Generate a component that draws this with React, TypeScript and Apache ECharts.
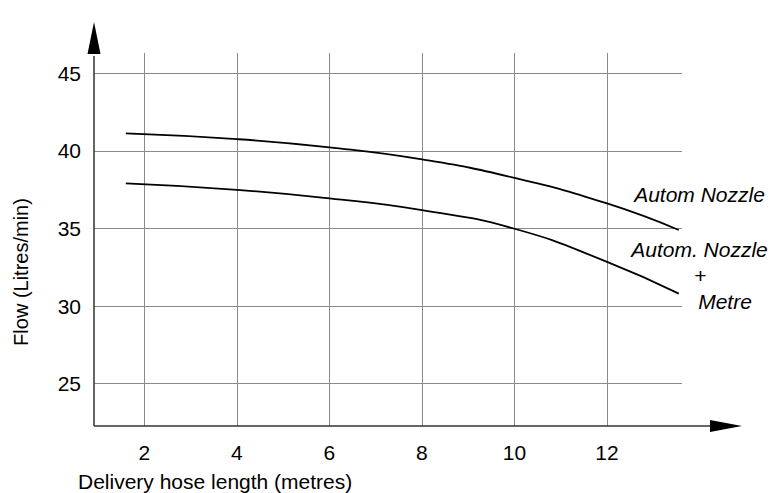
import React, { useEffect, useRef } from "react";
import * as echarts from "echarts";

// ---- data ----
const HOSE_LENGTH = [1.6, 4, 6, 8, 10, 12, 13.55];
const FLOW_AUTOM_NOZZLE = [41.13, 40.76, 40.23, 39.45, 38.26, 36.61, 34.9];
const FLOW_AUTOM_NOZZLE_METRE = [37.9, 37.49, 36.94, 36.18, 34.98, 32.85, 30.8];
const X_TICKS = [2, 4, 6, 8, 10, 12];
const Y_TICKS = [25, 30, 35, 40, 45];

const W = 774;
const H = 493;
const GRID = { left: 94, top: 53, right: 92, bottom: 67 };
const FONT = "'Liberation Sans', Arial, Helvetica, sans-serif";
const AXIS_COLOR = "#333";
const GRID_COLOR = "#8a8a8a";

export default function App() {
  const ref = useRef<HTMLDivElement>(null);

  useEffect(() => {
    if (!ref.current) return;
    const chart = echarts.init(ref.current, undefined, { renderer: "svg" });

    const x0 = GRID.left;
    const y0 = H - GRID.bottom;
    const xArrowBase = 710;
    const xArrowTip = 742;
    const yArrowBase = 54;
    const yArrowTip = 22;

    const textStyle = (text: string, italic: boolean, size = 21) => ({
      text,
      fontSize: size,
      fontStyle: italic ? "italic" : "normal",
      fontFamily: FONT,
      fill: "#000",
      align: "center",
      verticalAlign: "middle",
    });

    const option: any = {
      animation: false,
      backgroundColor: "#fff",
      grid: { ...GRID, containLabel: false },
      xAxis: {
        type: "value",
        min: 0.912,
        max: 13.62,
        axisLine: { show: false },
        axisTick: { show: false, customValues: X_TICKS },
        axisLabel: {
          customValues: X_TICKS,
          margin: 16,
          fontSize: 21,
          color: "#000",
          fontFamily: FONT,
        },
        splitLine: { show: true, lineStyle: { color: GRID_COLOR, width: 1 } },
      },
      yAxis: {
        type: "value",
        min: 22.265,
        max: 46.31,
        axisLine: { show: false },
        axisTick: { show: false, customValues: Y_TICKS },
        axisLabel: {
          customValues: Y_TICKS,
          margin: 13,
          fontSize: 21,
          color: "#000",
          fontFamily: FONT,
        },
        splitLine: { show: true, lineStyle: { color: GRID_COLOR, width: 1 } },
      },
      series: [
        {
          name: "Autom Nozzle",
          type: "line",
          smooth: true,
          showSymbol: false,
          data: HOSE_LENGTH.map((x, i) => [x, FLOW_AUTOM_NOZZLE[i]]),
          lineStyle: { color: "#000", width: 1.8 },
        },
        {
          name: "Autom. Nozzle + Metre",
          type: "line",
          smooth: true,
          showSymbol: false,
          data: HOSE_LENGTH.map((x, i) => [x, FLOW_AUTOM_NOZZLE_METRE[i]]),
          lineStyle: { color: "#000", width: 1.8 },
        },
      ],
      graphic: [
        // axes with arrows
        {
          type: "line",
          shape: { x1: x0, y1: y0, x2: x0, y2: yArrowBase + 2 },
          style: { stroke: AXIS_COLOR, lineWidth: 1.5 },
          z: 10,
        },
        {
          type: "polygon",
          shape: {
            points: [
              [x0 - 6.5, yArrowBase],
              [x0 + 6.5, yArrowBase],
              [x0, yArrowTip],
            ],
          },
          style: { fill: "#000" },
          z: 10,
        },
        {
          type: "line",
          shape: { x1: x0, y1: y0, x2: xArrowBase + 2, y2: y0 },
          style: { stroke: AXIS_COLOR, lineWidth: 1.5 },
          z: 10,
        },
        {
          type: "polygon",
          shape: {
            points: [
              [xArrowBase, y0 - 6],
              [xArrowBase, y0 + 6],
              [xArrowTip, y0],
            ],
          },
          style: { fill: "#000" },
          z: 10,
        },
        // axis names
        {
          type: "text",
          x: 78,
          y: 481,
          style: { ...textStyle("Delivery hose length (metres)", false), align: "left" },
        },
        {
          type: "text",
          x: 21,
          y: 272,
          rotation: Math.PI / 2,
          style: textStyle("Flow (Litres/min)", false, 20),
        },
        // curve labels
        { type: "text", x: 699.5, y: 194, style: textStyle("Autom Nozzle", true) },
        { type: "text", x: 699.5, y: 249.5, style: textStyle("Autom. Nozzle", true) },
        { type: "text", x: 700, y: 275, style: textStyle("+", true) },
        { type: "text", x: 725, y: 301.5, style: textStyle("Metre", true) },
      ],
    };

    chart.setOption(option);
    return () => chart.dispose();
  }, []);

  return (
    <div
      ref={ref}
      style={{ position: "fixed", left: 0, top: 0, width: W, height: H }}
    />
  );
}
